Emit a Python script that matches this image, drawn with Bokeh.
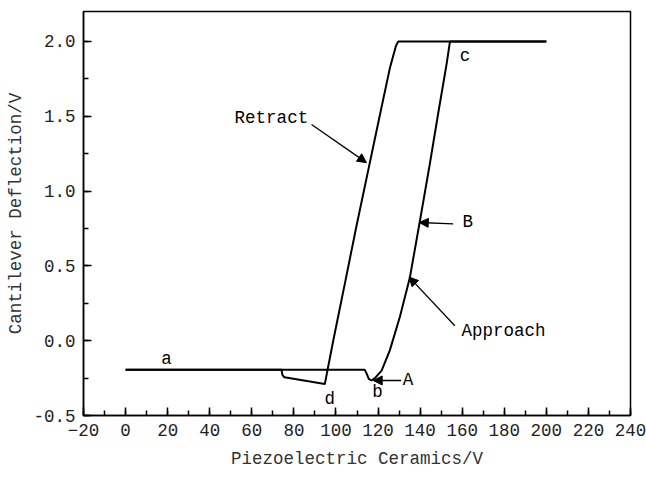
from bokeh.plotting import figure
from bokeh.models import Range1d, SingleIntervalTicker, NumeralTickFormatter, Arrow, NormalHead, ColumnDataSource
from bokeh.core.properties import value
from bokeh.embed import file_html
from bokeh.resources import INLINE

# Approach curve (piezo voltage V, deflection V)
approach_x = [0, 113.7, 114.6, 115.6, 116.9, 118.5, 121.7, 125.6, 130.4, 135.1, 139.9, 144.6, 148.6, 152.6, 154.2, 200]
approach_y = [-0.195, -0.195, -0.22, -0.255, -0.266, -0.25, -0.20, -0.065, 0.16, 0.42, 0.80, 1.18, 1.52, 1.85, 2.0, 2.0]

# Retract curve
retract_x = [200, 129.6, 128.5, 125.6, 120.9, 115.8, 109.8, 104.2, 98.7, 95.8, 94.7, 75.5, 74.6, 74.1, 0]
retract_y = [2.0, 2.0, 1.97, 1.82, 1.51, 1.17, 0.77, 0.38, 0.0, -0.21, -0.29, -0.245, -0.23, -0.195, -0.195]

# Annotation labels
label_text = ["a", "b", "c", "d", "A", "B", "Retract", "Approach"]
label_x = [19.5, 119.8, 161.3, 97.0, 134.3, 162.7, 69.3, 179.6]
label_y = [-0.12, -0.34, 1.90, -0.39, -0.266, 0.79, 1.485, 0.068]

# Arrows (tail -> head)
arrow_x0 = [88.4, 155.7, 156.5, 131.0]
arrow_y0 = [1.445, 0.78, 0.10, -0.266]
arrow_x1 = [114.5, 139.6, 134.8, 117.7]
arrow_y1 = [1.19, 0.79, 0.425, -0.266]

FONT = "Liberation Mono"
FS = "17.5px"

p = figure(width=646, height=479, output_backend="svg", toolbar_location=None,
           x_range=Range1d(-20, 240), y_range=Range1d(-0.5, 2.2),
           min_border_left=83, min_border_right=16, min_border_top=11, min_border_bottom=64)
p.background_fill_color = "white"
p.border_fill_color = "white"
p.outline_line_color = "black"
p.outline_line_width = 1.5
p.xgrid.visible = False
p.ygrid.visible = False

p.line(approach_x, approach_y, line_color="black", line_width=2)
p.line(retract_x, retract_y, line_color="black", line_width=2)

src = ColumnDataSource(dict(x=label_x, y=label_y, t=label_text))
p.text(x="x", y="y", text="t", source=src, text_font=value(FONT), text_font_size=FS,
       text_align="center", text_baseline="middle", text_color="black")

for x0, y0, x1, y1 in zip(arrow_x0, arrow_y0, arrow_x1, arrow_y1):
    p.add_layout(Arrow(end=NormalHead(size=9, fill_color="black", line_color="black"),
                       x_start=x0, y_start=y0, x_end=x1, y_end=y1,
                       line_color="black", line_width=1.3))

p.xaxis.ticker = SingleIntervalTicker(interval=20, num_minor_ticks=2)
p.yaxis.ticker = SingleIntervalTicker(interval=0.5, num_minor_ticks=2)
p.yaxis.formatter = NumeralTickFormatter(format="0.0")

for ax in (p.xaxis, p.yaxis):
    ax.axis_line_color = "black"
    ax.axis_line_width = 1.5
    ax.major_tick_in = 8
    ax.major_tick_out = 0
    ax.minor_tick_in = 5
    ax.minor_tick_out = 0
    ax.major_tick_line_color = "black"
    ax.minor_tick_line_color = "black"
    ax.major_tick_line_width = 1.5
    ax.minor_tick_line_width = 1.5
    ax.major_label_text_font = FONT
    ax.major_label_text_font_size = FS
    ax.major_label_text_color = "#222222"
    ax.axis_label_text_font = FONT
    ax.axis_label_text_font_size = FS
    ax.axis_label_text_font_style = "normal"
    ax.axis_label_text_color = "#333333"
    ax.major_label_standoff = 8

p.xaxis.axis_label = "Piezoelectric Ceramics/V"
p.yaxis.axis_label = "Cantilever Deflection/V"
p.xaxis.axis_label_standoff = 10
p.yaxis.axis_label_standoff = 4

open("out.html", "w").write(file_html(p, INLINE))
